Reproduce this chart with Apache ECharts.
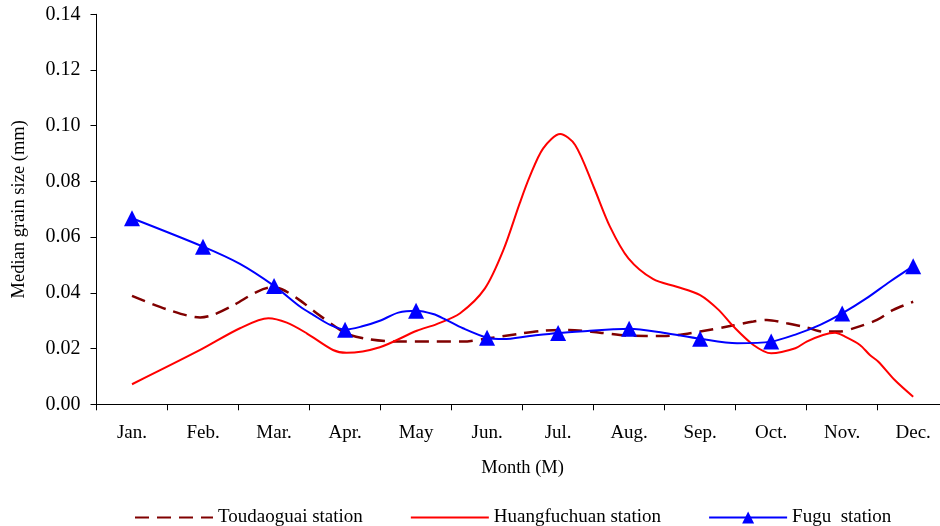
<!DOCTYPE html>
<html>
<head>
<meta charset="utf-8">
<script src="https://cdn.jsdelivr.net/npm/echarts@6/dist/echarts.min.js"></script>
<style>html,body{margin:0;padding:0;background:#fff;overflow:hidden;width:940px;height:526px}#chart{width:949px;height:526px}</style>
</head>
<body>
<div id="chart"></div>
<script>
const months = ['Jan.','Feb.','Mar.','Apr.','May','Jun.','Jul.','Aug.','Sep.','Oct.','Nov.','Dec.'];
const yTicks = [0, 0.02, 0.04, 0.06, 0.08, 0.10, 0.12, 0.14];

// positions in month units (1 = Jan., 12 = Dec.)
const toudaoguaiPos = [1.0,1.49,1.96,2.14,2.43,2.76,2.95,3.11,3.36,3.6,3.93,4.07,4.35,4.73,5.2,5.66,5.99,6.42,6.79,7.15,7.59,8.01,8.48,9.0,9.42,9.75,9.94,10.22,10.5,10.73,10.95,11.2,11.49,11.72,12.0];
const toudaoguaiVal = [0.0389,0.0341,0.0312,0.0321,0.0356,0.0404,0.0419,0.0413,0.0374,0.0327,0.0267,0.0249,0.0233,0.0225,0.0225,0.0225,0.0236,0.0252,0.0264,0.0267,0.0257,0.0246,0.0245,0.0261,0.0281,0.0297,0.0303,0.0291,0.0276,0.0261,0.0261,0.0276,0.0303,0.0339,0.0368];

const huangfuchuanPos = [1.0,1.96,2.52,2.92,3.18,3.46,3.83,4.02,4.49,5.01,5.29,5.62,5.97,6.23,6.46,6.6,6.79,7.03,7.24,7.5,7.73,7.99,8.34,8.67,9.0,9.26,9.47,9.75,10.0,10.34,10.5,10.73,10.9,11.04,11.25,11.39,11.51,11.74,12.0];
const huangfuchuanVal = [0.0072,0.0195,0.0273,0.0309,0.0293,0.0255,0.0195,0.0185,0.0205,0.0264,0.0288,0.0327,0.0416,0.0554,0.0722,0.0817,0.0919,0.0970,0.0931,0.0781,0.0638,0.0524,0.0449,0.0422,0.0392,0.0339,0.0279,0.0213,0.0183,0.0201,0.0225,0.0249,0.0257,0.0243,0.0213,0.0177,0.0153,0.0087,0.0027];

const fuguPos = [1,2,2.52,3,3.37,3.55,3.79,4,4.23,4.49,4.75,5,5.24,5.41,5.66,6,6.23,6.6,7,7.45,7.78,8,8.48,9,9.52,10,10.36,10.69,11,11.34,11.67,12];
const fuguVal = [0.0668,0.0566,0.0504,0.0425,0.0350,0.0321,0.0285,0.0268,0.0279,0.0300,0.0329,0.0336,0.0324,0.0305,0.0273,0.0239,0.0234,0.0245,0.0256,0.0264,0.0269,0.0271,0.0257,0.0235,0.0219,0.0225,0.0252,0.0285,0.0326,0.0380,0.0440,0.0496];

const pairs = (xs, ys) => xs.map((x, i) => [x, ys[i]]);
const FONT = 'Liberation Serif';

const chart = echarts.init(document.getElementById('chart'), null, {renderer: 'canvas'});
chart.setOption({
  animation: false,
  backgroundColor: '#fff',
  textStyle: {fontFamily: FONT, color: '#000'},
  grid: {left: 96.5, top: 14.3, right: 0.3, bottom: 121.7},
  legend: {
    left: 129, top: 503, itemGap: 47, itemWidth: 78, itemHeight: 15,
    textStyle: {fontFamily: FONT, fontSize: 19, color: '#000'},
    data: [
      {name: 'Toudaoguai station', itemStyle: {opacity: 0}},
      {name: 'Huangfuchuan station', itemStyle: {opacity: 0}},
      {name: 'Fugu  station'}
    ]
  },
  xAxis: [{
    type: 'category', data: months, boundaryGap: true,
    name: 'Month (M)', nameLocation: 'middle', nameGap: 54,
    nameTextStyle: {fontFamily: FONT, fontSize: 18.5, color: '#000'},
    axisLine: {lineStyle: {color: '#000', width: 1}},
    axisTick: {show: true, length: 6, lineStyle: {color: '#000'}},
    axisLabel: {fontFamily: FONT, fontSize: 19, color: '#000', margin: 19, interval: 0},
    splitLine: {show: false}
  }, {
    type: 'value', min: 0.5, max: 12.5, show: false, position: 'bottom'
  }],
  yAxis: {
    type: 'value', min: 0, max: 0.14, interval: 0.02,
    name: 'Median grain size (mm)', nameLocation: 'middle', nameGap: 68, nameRotate: 90,
    nameTextStyle: {fontFamily: FONT, fontSize: 18.5, color: '#000'},
    axisLine: {show: true, lineStyle: {color: '#000', width: 1}},
    axisTick: {show: true, length: 6, lineStyle: {color: '#000'}},
    axisLabel: {fontFamily: FONT, fontSize: 20, color: '#000', margin: 16,
      formatter: v => v.toFixed(2)},
    splitLine: {show: false}
  },
  series: [{
    name: 'Toudaoguai station', type: 'line', xAxisIndex: 1,
    data: pairs(toudaoguaiPos, toudaoguaiVal),
    smooth: 0.3, symbol: 'none',
    lineStyle: {color: '#800000', width: 2.5, type: [14, 8]},
    itemStyle: {color: '#800000'}
  }, {
    name: 'Huangfuchuan station', type: 'line', xAxisIndex: 1,
    data: pairs(huangfuchuanPos, huangfuchuanVal),
    smooth: 0.3, symbol: 'none',
    lineStyle: {color: '#ff0000', width: 2},
    itemStyle: {color: '#ff0000'}
  }, {
    name: 'Fugu  station', type: 'line', xAxisIndex: 1,
    data: pairs(fuguPos, fuguVal),
    smooth: 0.3, symbol: 'triangle', showAllSymbol: true,
    symbolSize: v => Number.isInteger(v[0]) ? 16 : 0,
    lineStyle: {color: '#0000ff', width: 2},
    itemStyle: {color: '#0000ff'}
  }]
});
</script>
</body>
</html>
